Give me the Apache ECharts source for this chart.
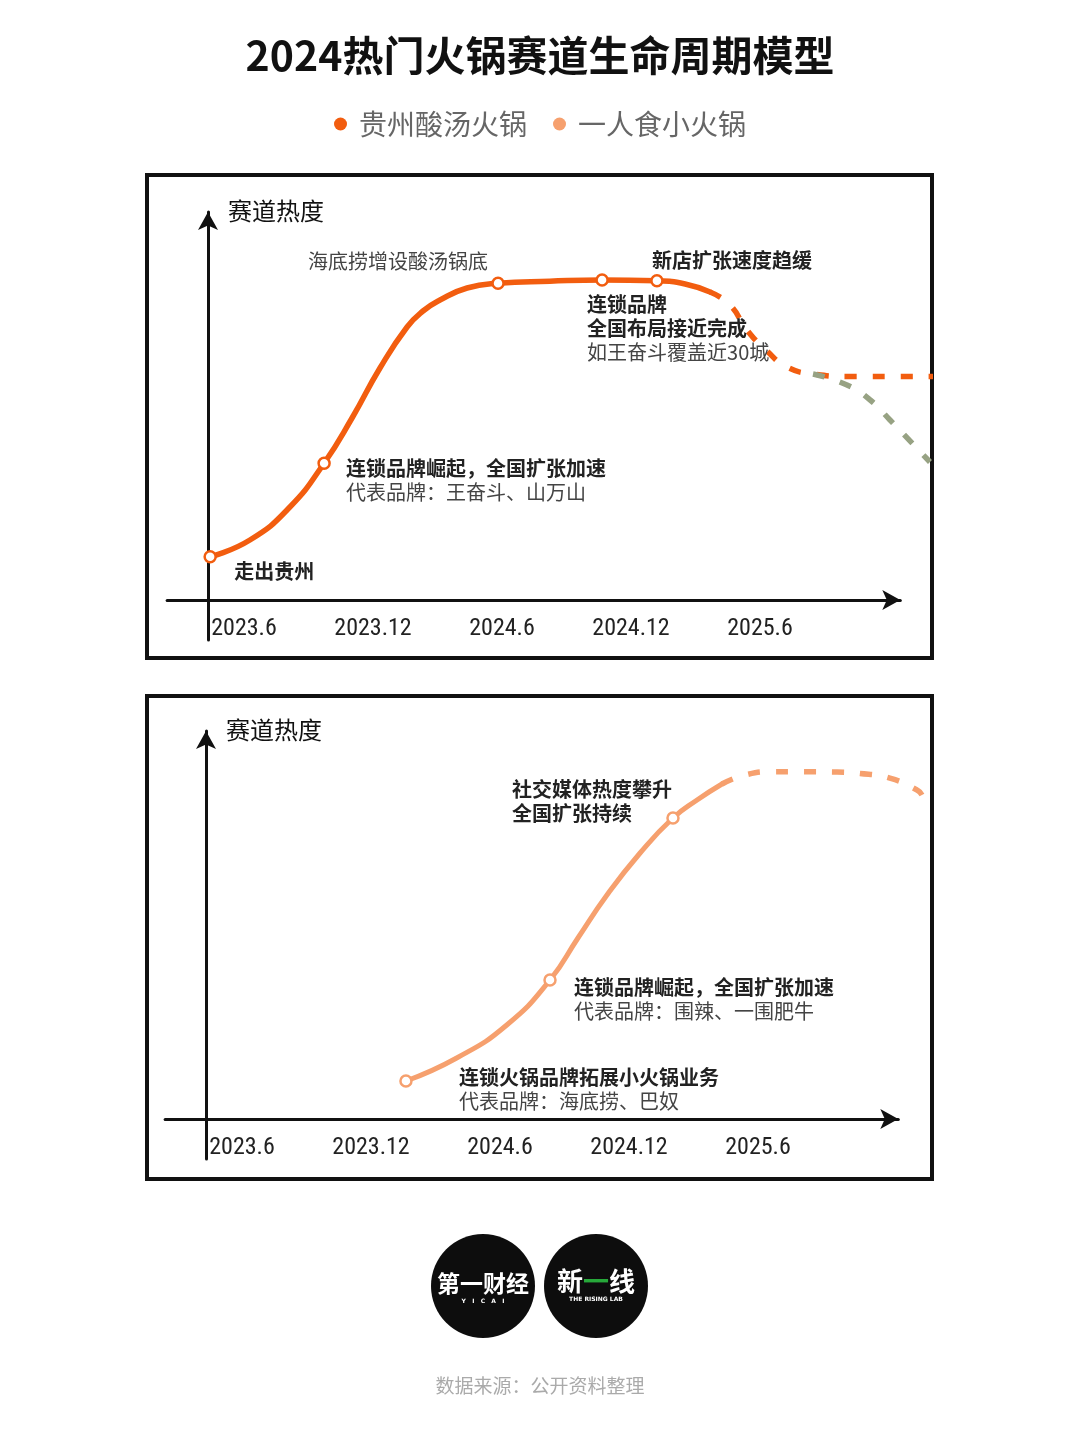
<!DOCTYPE html>
<html><head><meta charset="utf-8">
<script src="https://cdn.jsdelivr.net/npm/echarts@6/dist/echarts.min.js"></script>
<style>html,body{margin:0;padding:0;background:#fff}#c{width:1080px;height:1440px}</style>
</head><body><div id="c"></div>
<script>
// ---------------- DATA ----------------
const chartTitle = '2024热门火锅赛道生命周期模型';
const seriesNames = ['贵州酸汤火锅', '一人食小火锅'];
const yAxisName = '赛道热度';
const xTickMonths = [0, 6, 12, 18, 24];            // months since 2023.6
const xTickLabels = ['2023.6', '2023.12', '2024.6', '2024.12', '2025.6'];

// Panel 1: 贵州酸汤火锅 (x = months since 2023.6, y = heat)
const sourSolidX = [0.1, 1.95, 3.81, 5.4, 6.7, 8.0, 9.26, 10.0, 10.79, 12.05, 13.49, 15.9, 18.33, 20.88, 22.19, 23.35];
const sourSolidY = [10.8, 15, 23.25, 34.2, 45.5, 58, 68.25, 72.25, 75, 78, 79.2, 79.7, 80, 79.8, 79, 77];
const sourDashX = [23.35, 24.28, 25.07, 25.95, 26.93, 28.14, 29.86, 33.72];
const sourDashY = [77, 73.75, 67.5, 62.5, 58.25, 56.5, 55.9, 55.9];
const sourDeclineX = [28.14, 29.72, 30.8, 31.72, 33.58];
const sourDeclineY = [56.5, 53.75, 50, 45, 34.5];
const sourMilestoneX = [0.1, 5.4, 13.49, 18.33, 20.88];
const sourMilestoneY = [10.8, 34.2, 79.2, 80, 79.8];
const sourNotes = [
  { head: ['走出贵州'], body: [] },
  { head: ['连锁品牌崛起，全国扩张加速'], body: ['代表品牌：王奋斗、山万山'] },
  { head: [], body: ['海底捞增设酸汤锅底'] },
  { head: ['连锁品牌', '全国布局接近完成'], body: ['如王奋斗覆盖近30城'] },
  { head: ['新店扩张速度趋缓'], body: [] }
];

// Panel 2: 一人食小火锅
const soloSolidX = [9.3, 11.66, 13.99, 16.0, 17.3, 18.65, 20.19, 21.72, 22.84, 24.0];
const soloSolidY = [9.5, 15.25, 23.5, 34.75, 45.25, 56, 66.5, 75.25, 79.75, 83.75];
const soloDashX = [24.0, 25.07, 26.37, 27.77, 29.12, 30.42, 31.81, 33.07, 33.3];
const soloDashY = [83.75, 86, 86.8, 86.8, 86.75, 86.4, 85.2, 82.25, 81];
const soloMilestoneX = [9.3, 16.0, 21.72];
const soloMilestoneY = [9.5, 34.75, 75.25];
const soloNotes = [
  { head: ['连锁火锅品牌拓展小火锅业务'], body: ['代表品牌：海底捞、巴奴'] },
  { head: ['连锁品牌崛起，全国扩张加速'], body: ['代表品牌：围辣、一围肥牛'] },
  { head: ['社交媒体热度攀升', '全国扩张持续'], body: [] }
];

const sourceText = '数据来源：公开资料整理';

// ---------------- LAYOUT / STYLE ----------------
const C1 = '#f25d0f', C2 = '#f6a06e', CG = '#97a283';
const CJK = "'Noto Sans CJK SC','Noto Sans',sans-serif";
const NARROW = "'Roboto Condensed','Liberation Sans Narrow','Arial Narrow','Roboto',sans-serif";
const PXM = 21.5, PXU = 4, X_MIN = -1.9, X_MAX = 32.2, X_WIDE = 34.6, Y_MIN = -10, Y_MAX = 97;
const origins = [[208, 600], [206, 1119]];
const noteLayout1 = [
  { dx: 24, dy: 3, align: 'left' }, { dx: 22, dy: -7, align: 'left' },
  { dx: -10, dy: -34, align: 'right' }, { dx: -15, dy: 12, align: 'left' },
  { dx: -5, dy: -32, align: 'left' }
];
const noteLayout2 = [
  { dx: 53, dy: -16, align: 'left' }, { dx: 24, dy: -5, align: 'left' },
  { dx: -161, dy: -41, align: 'left' }
];

const zip = (xs, ys) => xs.map((x, i) => [x, ys[i]]);
const noteText = n => n.head.map(t => '{h|' + t + '}').concat(n.body.map(t => '{b|' + t + '}')).join('\n');
const rich = {
  h: { fontSize: 20, fontWeight: 'bold', color: '#222', lineHeight: 24, fontFamily: CJK },
  b: { fontSize: 20, color: '#444', lineHeight: 24, fontFamily: CJK }
};

// grids 0,1: visible axes; grids 2,3: same scale, wider, hidden axes (data drawn here so it may run past the arrow)
const mkGrid = ([ox, oy], xmax) => ({
  left: ox + X_MIN * PXM, width: (xmax - X_MIN) * PXM,
  top: oy - Y_MAX * PXU, height: (Y_MAX - Y_MIN) * PXU, containLabel: false
});
const grids = [mkGrid(origins[0], X_MAX), mkGrid(origins[1], X_MAX), mkGrid(origins[0], X_WIDE), mkGrid(origins[1], X_WIDE)];

const axisLineStyle = { color: '#111', width: 3 };
const xAxes = [0, 1].map(g => ({
  gridIndex: g, type: 'value', min: X_MIN, max: X_MAX, offset: Y_MIN * PXU,
  axisLine: { show: true, onZero: false, lineStyle: axisLineStyle, symbol: ['none', 'arrow'], symbolSize: [15, 18] },
  axisTick: { show: false }, splitLine: { show: false },
  axisLabel: {
    customValues: xTickMonths, formatter: v => xTickLabels[xTickMonths.indexOf(v)],
    align: 'center', margin: 17, fontSize: 24, fontFamily: NARROW, color: '#222', padding: [0, 0, 0, 72]
  }
})).concat([2, 3].map(g => ({ gridIndex: g, type: 'value', min: X_MIN, max: X_WIDE, show: false })));
const yAxes = [0, 1].map(g => ({
  gridIndex: g, type: 'value', min: Y_MIN, max: Y_MAX, offset: X_MIN * PXM,
  axisLine: { show: true, onZero: false, lineStyle: axisLineStyle, symbol: ['none', 'arrow'], symbolSize: [15, 18] },
  axisTick: { show: false }, splitLine: { show: false }, axisLabel: { show: false },
  name: yAxisName, nameLocation: 'end', nameGap: 1,
  nameTextStyle: { align: 'left', verticalAlign: 'middle', fontSize: 24, color: '#111', fontFamily: CJK, padding: [0, 0, 0, 20] }
})).concat([2, 3].map(g => ({ gridIndex: g, type: 'value', min: Y_MIN, max: Y_MAX, show: false })));

function milestoneSeries(name, g, xs, ys, notes, layout, color) {
  return {
    name, type: 'scatter', xAxisIndex: g, yAxisIndex: g, z: 5, clip: false,
    symbol: 'circle', symbolSize: 11,
    itemStyle: { color: '#fff', borderColor: color, borderWidth: 2.5, opacity: 1 },
    data: xs.map((x, i) => ({
      value: [x, ys[i]],
      label: {
        show: true, position: 'inside', formatter: noteText(notes[i]), rich,
        align: layout[i].align, verticalAlign: 'top', offset: [layout[i].dx, layout[i].dy]
      }
    })),
    emphasis: { disabled: true }
  };
}
function lineSeries(name, g, xs, ys, color, dashed, width) {
  return {
    name, type: 'line', xAxisIndex: g, yAxisIndex: g, clip: false, showSymbol: false, symbol: 'none',
    smooth: 0.5, z: dashed ? 2 : 3,
    lineStyle: { color, width, type: dashed ? [12, 16] : 'solid', cap: dashed ? 'butt' : 'round' },
    itemStyle: { color }, data: zip(xs, ys), emphasis: { disabled: true }
  };
}

const option = {
  backgroundColor: '#fff',
  animation: false,
  title: {
    text: chartTitle, left: 'center', top: 35, padding: 0,
    textStyle: { fontSize: 41, fontWeight: 'bold', color: '#111', fontFamily: CJK }
  },
  legend: {
    data: seriesNames, left: 'center', top: 110, padding: 0, itemGap: 26,
    icon: 'circle', itemWidth: 13, itemHeight: 13,
    textStyle: { fontSize: 28, color: '#666', fontFamily: CJK, padding: [0, 0, 0, 7] },
    selectedMode: false
  },
  grid: grids, xAxis: xAxes, yAxis: yAxes,
  series: [
    lineSeries(seriesNames[0], 2, sourSolidX, sourSolidY, C1, false, 5.5),
    lineSeries('贵州酸汤火锅（预测）', 2, sourDashX, sourDashY, C1, true, 5.5),
    lineSeries('贵州酸汤火锅（下行）', 2, sourDeclineX, sourDeclineY, CG, true, 5.5),
    milestoneSeries('贵州酸汤火锅节点', 2, sourMilestoneX, sourMilestoneY, sourNotes, noteLayout1, C1),
    lineSeries(seriesNames[1], 3, soloSolidX, soloSolidY, C2, false, 5),
    lineSeries('一人食小火锅（预测）', 3, soloDashX, soloDashY, C2, true, 5.5),
    milestoneSeries('一人食小火锅节点', 3, soloMilestoneX, soloMilestoneY, soloNotes, noteLayout2, C2)
  ],
  graphic: [
    { type: 'rect', shape: { x: 147, y: 175, width: 785, height: 483 }, style: { fill: 'none', stroke: '#111', lineWidth: 4 }, z: 0 },
    { type: 'rect', shape: { x: 147, y: 696, width: 785, height: 483 }, style: { fill: 'none', stroke: '#111', lineWidth: 4 }, z: 0 },
    { type: 'circle', shape: { cx: 483, cy: 1286, r: 52 }, style: { fill: '#0d0d0d' } },
    { type: 'circle', shape: { cx: 596, cy: 1286, r: 52 }, style: { fill: '#0d0d0d' } },
    { type: 'text', x: 483, y: 1283, style: { text: '第一财经', fill: '#fff', font: "bold 23px 'Noto Sans CJK SC'", align: 'center', verticalAlign: 'middle' } },
    { type: 'text', x: 483, y: 1301, style: { text: 'Y   I   C   A   I', fill: '#fff', font: "bold 6px 'DejaVu Sans'", align: 'center', verticalAlign: 'middle' } },
    { type: 'text', x: 596, y: 1281, style: { text: '{w|新}{g|一}{w|线}', rich: { w: { fill: '#fff', font: "bold 26px 'Noto Sans CJK SC'" }, g: { fill: '#27a83a', font: "bold 26px 'Noto Sans CJK SC'" } }, align: 'center', verticalAlign: 'middle' } },
    { type: 'text', x: 596, y: 1299, style: { text: 'THE RISING LAB', fill: '#fff', font: "bold 6px 'DejaVu Sans'", align: 'center', verticalAlign: 'middle' } },
    { type: 'text', x: 540, y: 1386, style: { text: sourceText, fill: '#aaa', font: "19px 'Noto Sans CJK SC'", align: 'center', verticalAlign: 'middle' } }
  ]
};
const chart = echarts.init(document.getElementById('c'), null, { renderer: 'canvas' });
chart.setOption(option);
</script></body></html>
